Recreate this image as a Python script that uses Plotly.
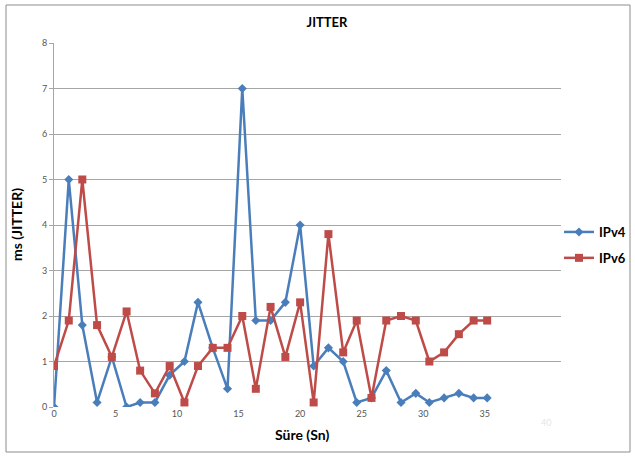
import plotly.graph_objects as go

# Time (s) of each measurement
sure = [0, 1.2, 2.3, 3.5, 4.7, 5.9, 7.0, 8.2, 9.4, 10.6, 11.7, 12.9, 14.1, 15.3, 16.4,
        17.6, 18.8, 20.0, 21.1, 22.3, 23.5, 24.6, 25.8, 27.0, 28.2, 29.4, 30.5, 31.7,
        32.9, 34.1, 35.2]
ipv4 = [0, 5.0, 1.8, 0.1, 1.1, 0, 0.1, 0.1, 0.7, 1.0, 2.3, 1.3, 0.4, 7.0, 1.9,
        1.9, 2.3, 4.0, 0.9, 1.3, 1.0, 0.1, 0.2, 0.8, 0.1, 0.3, 0.1, 0.2, 0.3, 0.2, 0.2]
ipv6 = [0.9, 1.9, 5.0, 1.8, 1.1, 2.1, 0.8, 0.3, 0.9, 0.1, 0.9, 1.3, 1.3, 2.0, 0.4,
        2.2, 1.1, 2.3, 0.1, 3.8, 1.2, 1.9, 0.2, 1.9, 2.0, 1.9, 1.0, 1.2, 1.6, 1.9, 1.9]
x_ticks = [0, 5, 10, 15, 20, 25, 30, 35]
y_ticks = [0, 1, 2, 3, 4, 5, 6, 7, 8]

W, H = 635, 458
L, R, T, B = 54, 74, 43, 51
pw, ph = W - L - R, H - T - B

def px(x):
    return (x - L) / pw

def py(y):
    return (H - B - y) / ph

fig = go.Figure()
fig.add_trace(go.Scatter(
    x=sure, y=ipv4, name="<b>IPv4</b>", mode="lines+markers",
    line=dict(color="#4A7EBB", width=2.5),
    marker=dict(symbol="diamond", size=7, color="#4A7EBB"),
    legendgroup="a"))
fig.add_trace(go.Scatter(
    x=sure, y=ipv6, name="<b>IPv6</b>", mode="lines+markers",
    line=dict(color="#BE4B48", width=2.5),
    marker=dict(symbol="square", size=8, color="#BE4B48"),
    legendgroup="b"))

fig.update_layout(
    width=W, height=H,
    margin=dict(l=L, r=R, t=T, b=B, autoexpand=False),
    paper_bgcolor="white", plot_bgcolor="white",
    font=dict(family="Lato, Liberation Sans, sans-serif", color="#000"),
    title=dict(text="<b>JITTER</b>", x=327 / W, xref="container", xanchor="center",
               y=1 - 22 / H, yref="container", yanchor="middle",
               font=dict(size=13, color="#000")),
    showlegend=True,
    legend=dict(x=px(559), xanchor="left", y=py(245), yanchor="middle",
                font=dict(size=13, color="#000"), tracegroupgap=6, itemwidth=30,
                bgcolor="rgba(0,0,0,0)"),
    xaxis=dict(range=[0, 41.2], tickvals=x_ticks, ticktext=[str(v) for v in x_ticks],
               showgrid=False, zeroline=False, showline=False,
               tickfont=dict(size=9, color="#555"), ticks="", ticklen=0),
    yaxis=dict(range=[0, 8], tickvals=y_ticks, showgrid=True, gridcolor="#A6A6A6",
               gridwidth=1, zeroline=False, showline=True, linecolor="#A6A6A6",
               linewidth=1, ticks="outside", ticklen=4, tickcolor="#A6A6A6",
               tickfont=dict(size=9, color="#555")),
)

# faint "40" label
fig.add_annotation(x=40, y=0, yshift=-15, text="40", showarrow=False,
                   font=dict(size=9, color="#E6E6E6"), xref="x", yref="y")
fig.add_annotation(x=px(302), y=py(434), xref="paper", yref="paper",
                   text="<b>Süre (Sn)</b>", showarrow=False,
                   font=dict(size=14, color="#000"), xanchor="center", yanchor="middle")
fig.add_annotation(x=px(16), y=py(225), xref="paper", yref="paper",
                   text="<b>ms (JITTER)</b>", showarrow=False, textangle=-90,
                   font=dict(size=14, color="#000"), xanchor="center", yanchor="middle")
# outer border
fig.add_shape(type="rect", xref="paper", yref="paper",
              x0=px(6), x1=px(630), y0=py(452), y1=py(5),
              line=dict(color="#8C8C8C", width=1), layer="below")

fig.write_html("out.html")
